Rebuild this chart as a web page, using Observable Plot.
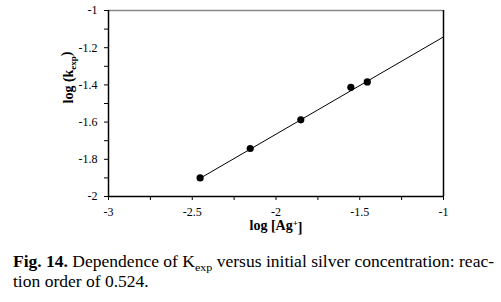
<!DOCTYPE html>
<html>
<head>
<meta charset="utf-8">
<script src="https://cdn.jsdelivr.net/npm/d3@7"></script>
<script src="https://cdn.jsdelivr.net/npm/@observablehq/plot@0.6"></script>
<style>
  body { margin: 0; background: #fff; font-family: "Liberation Serif", serif; overflow: hidden; }
  #chart svg { display: block; }
  .cap { font-family: "Liberation Serif", serif; font-size: 16px; line-height: 20px; color: #000;
         margin-left: 13px; margin-top: 10px; white-space: nowrap; width: 440px;
         transform: scaleX(1.095); transform-origin: 0 0; }
</style>
</head>
<body>
<div id="chart"></div>
<div class="cap">
  <div><b>Fig. 14.</b> Dependence of K<sub style="font-size:11px;line-height:0">exp</sub> versus initial silver concentration: reac-</div>
  <div>tion order of 0.524.</div>
</div>
<script>
const logAg = [-2.453, -2.154, -1.852, -1.553, -1.455];
const logK = [-1.900, -1.742, -1.588, -1.413, -1.384];
const fitX = [-2.453, -1];
const fitY = [-1.902, -1.142];
const xTicks = [-3, -2.5, -2, -1.5, -1];
const xMinor = [-2.75, -2.25, -1.75, -1.25];
const yTicks = [-1, -1.2, -1.4, -1.6, -1.8, -2];
const yMinor = [-1.1, -1.3, -1.5, -1.7, -1.9];
const xLabel = "log [Ag+]";
const yLabel = "log (kexp)";

const pts = logAg.map((x, i) => ({x, y: logK[i]}));
const fit = fitX.map((x, i) => ({x, y: fitY[i]}));

const chart = Plot.plot({
  width: 501,
  height: 242,
  marginTop: 10,
  marginBottom: 46,
  marginLeft: 108,
  marginRight: 58,
  style: {fontFamily: "Liberation Serif, serif", fontSize: "12px", color: "#000", background: "#fff"},
  x: {domain: [-3, -1]},
  y: {domain: [-2, -1]},
  marks: [
    Plot.axisX(xTicks, {tickSize: 4, tickPadding: 7, tickFormat: d => String(d), fontSize: 12, label: null}),
    Plot.axisX(xMinor, {tickSize: 4, tickFormat: () => "", label: null}),
    Plot.axisY(yTicks, {tickSize: 4, tickPadding: 7, tickFormat: d => String(d), fontSize: 12, label: null}),
    Plot.axisY(yMinor, {tickSize: 4, tickFormat: () => "", label: null}),
    Plot.text([xLabel], {frameAnchor: "bottom", dy: 33, text: d => d, fontWeight: "bold", fontSize: 14, className: "xlab"}),
    Plot.text([yLabel], {frameAnchor: "left", dx: -40, rotate: -90, text: d => d, fontWeight: "bold", fontSize: 14, className: "ylab"}),
    Plot.ruleY([-1], {stroke: "#888", strokeWidth: 1.5}),
    Plot.ruleX([-1], {stroke: "#000", strokeWidth: 1.5}),
    Plot.ruleY([-2], {stroke: "#000", strokeWidth: 1.5}),
    Plot.ruleX([-3], {stroke: "#000", strokeWidth: 1.5}),
    Plot.line(fit, {x: "x", y: "y", stroke: "#000", strokeWidth: 1}),
    Plot.dot(pts, {x: "x", y: "y", r: 3.6, fill: "#000", stroke: "none"})
  ]
});
document.getElementById("chart").appendChild(chart);

const svg = d3.select(chart);
svg.selectAll('.xlab text')
  .each(function() {
    const t = d3.select(this);
    t.text("");
    t.append("tspan").text("log [Ag");
    t.append("tspan").attr("dy", "-0.4em").attr("font-size", 9).text("+");
    t.append("tspan").attr("dy", "0.4em").text("]");
  });
svg.selectAll('.ylab text')
  .each(function() {
    const t = d3.select(this);
    t.text("");
    t.append("tspan").text("log (k");
    t.append("tspan").attr("dy", "0.3em").attr("font-size", 9).text("exp");
    t.append("tspan").attr("dy", "-0.3em").text(")");
  });
</script>
</body>
</html>
